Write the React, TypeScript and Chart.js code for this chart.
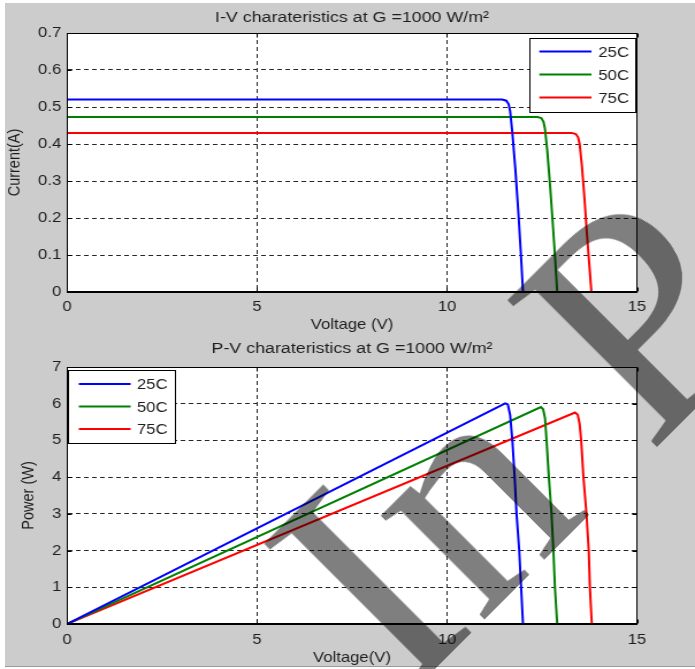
import React, { useEffect, useRef } from 'react';
import { Chart, registerables } from 'chart.js';

Chart.register(...registerables);

const FONT = '"Liberation Sans", Arial, sans-serif';
const TEXT_COLOR = '#1e1e1e';
// The reference figure is horizontally stretched; the charts are drawn narrower and widened by CSS.
const CANVAS_W = 604;
const STRETCH = 695 / CANVAS_W;

const seriesLabels = ['25C', '50C', '75C'];
const seriesColors = ['#0000ff', '#008000', '#ff0000'];

// I-V characteristics (voltage in V, current in A)
const ivVoltage25 = [0, 11.45, 11.56, 11.62, 11.66, 11.72, 11.8, 11.88, 11.94, 12.0];
const ivCurrent25 = [0.52, 0.52, 0.517, 0.508, 0.49, 0.43, 0.33, 0.21, 0.11, 0];
const ivVoltage50 = [0, 12.38, 12.48, 12.54, 12.58, 12.64, 12.71, 12.78, 12.84, 12.9];
const ivCurrent50 = [0.473, 0.473, 0.47, 0.46, 0.44, 0.38, 0.29, 0.19, 0.1, 0];
const ivVoltage75 = [0, 13.28, 13.39, 13.45, 13.49, 13.55, 13.62, 13.68, 13.74, 13.8];
const ivCurrent75 = [0.43, 0.43, 0.427, 0.418, 0.4, 0.34, 0.25, 0.16, 0.08, 0];

// P-V characteristics (voltage in V, power in W)
const pvVoltage25 = [0, 11.53, 11.6, 11.66, 11.72, 11.78, 11.83, 11.9, 11.95, 12.0];
const pvPower25 = [0, 6.01, 5.98, 5.7, 5.0, 4.0, 3.0, 2.0, 1.0, 0];
const pvVoltage50 = [0, 12.47, 12.53, 12.58, 12.62, 12.68, 12.75, 12.8, 12.84, 12.9];
const pvPower50 = [0, 5.91, 5.85, 5.6, 5.0, 4.0, 3.0, 2.0, 1.0, 0];
const pvVoltage75 = [0, 13.37, 13.44, 13.49, 13.53, 13.59, 13.67, 13.73, 13.76, 13.81];
const pvPower75 = [0, 5.76, 5.7, 5.45, 5.0, 4.0, 3.0, 2.0, 1.0, 0];

const ivTitle = 'I-V charateristics at G =1000 W/m\u00B2';
const pvTitle = 'P-V charateristics at G =1000 W/m\u00B2';
const ivXLabel = 'Voltage (V)';
const ivYLabel = 'Current(A)';
const pvXLabel = 'Voltage(V)';
const pvYLabel = 'Power (W)';
const watermarkText = 'In P';

const zip = (xs: number[], ys: number[]) => xs.map((x, i) => ({ x, y: ys[i] }));

const matlabPlugin = {
  id: 'matlabBox',
  beforeDraw(chart: any) {
    const { ctx, chartArea: a } = chart;
    ctx.save();
    ctx.fillStyle = '#ffffff';
    ctx.fillRect(a.left, a.top, a.right - a.left, a.bottom - a.top);
    ctx.restore();
  },
  afterDatasetsDraw(chart: any, _args: any, opts: any) {
    const { ctx, chartArea: a, scales } = chart;
    const L = Math.round(a.left) + 0.5;
    const R = Math.round(a.right) - 0.5;
    const T = Math.round(a.top) + 0.5;
    const B = Math.round(a.bottom) - 0.5;
    ctx.save();
    ctx.strokeStyle = '#000000';
    ctx.lineWidth = 1;
    ctx.setLineDash([]);
    ctx.strokeRect(L, T, R - L, B - T);
    const tl = 4;
    ctx.beginPath();
    scales.x.ticks.forEach((t: any) => {
      const px = Math.round(scales.x.getPixelForValue(t.value)) + 0.5;
      ctx.moveTo(px, B); ctx.lineTo(px, B - tl);
      ctx.moveTo(px, T); ctx.lineTo(px, T + tl);
    });
    scales.y.ticks.forEach((t: any) => {
      const py = Math.round(scales.y.getPixelForValue(t.value)) + 0.5;
      ctx.moveTo(L, py); ctx.lineTo(L + tl, py);
      ctx.moveTo(R, py); ctx.lineTo(R - tl, py);
    });
    ctx.stroke();

    if (opts && opts.legend) {
      const lg = opts.legend;
      const bx = lg.corner === 'tr' ? Math.round(a.right) - lg.dx - lg.w : Math.round(a.left) + lg.dx;
      const by = Math.round(a.top) + lg.dy;
      ctx.fillStyle = '#ffffff';
      ctx.fillRect(bx, by, lg.w, lg.h);
      ctx.strokeStyle = '#000000';
      ctx.lineWidth = 1;
      ctx.strokeRect(bx + 0.5, by + 0.5, lg.w - 1, lg.h - 1);
      chart.data.datasets.forEach((ds: any, i: number) => {
        const y = by + lg.rows[i];
        ctx.strokeStyle = ds.borderColor;
        ctx.lineWidth = 2;
        ctx.beginPath();
        ctx.moveTo(bx + lg.lineX0, y);
        ctx.lineTo(bx + lg.lineX1, y);
        ctx.stroke();
        ctx.fillStyle = TEXT_COLOR;
        ctx.font = `14.5px ${FONT}`;
        ctx.textBaseline = 'middle';
        ctx.textAlign = 'left';
        ctx.fillText(ds.label, bx + lg.textX, y + 1);
      });
    }
    ctx.restore();
  },
};

type PanelCfg = {
  xs: number[][];
  ys: number[][];
  title: string;
  xLabel: string;
  yLabel: string;
  yMax: number;
  yStep: number;
  height: number;
  titlePad: { top: number; bottom: number };
  xAxisHeight: number;
  xTickPad: number;
  xTitlePad: number;
  yTitlePad: number;
  legend: any;
};

function makeConfig(p: PanelCfg): any {
  const fixAxis = (size: number, horizontal: boolean) => (scale: any) => {
    if (horizontal) scale.height = size; else scale.width = size;
    scale.paddingLeft = 0; scale.paddingRight = 0; scale.paddingTop = 0; scale.paddingBottom = 0;
  };
  const tickFont = { family: FONT, size: 14.5 };
  const labelFont = { family: FONT, size: 14.5, lineHeight: 1.2 };
  return {
    type: 'line',
    data: {
      datasets: seriesLabels.map((label, i) => ({
        label,
        data: zip(p.xs[i], p.ys[i]),
        borderColor: seriesColors[i],
        backgroundColor: seriesColors[i],
        borderWidth: 2,
        pointRadius: 0,
        tension: 0,
        fill: false,
      })),
    },
    options: {
      animation: false,
      responsive: false,
      devicePixelRatio: 1,
      layout: { padding: { left: 0, right: 58 / STRETCH, top: 0, bottom: 0 } },
      plugins: {
        legend: { display: false },
        tooltip: { enabled: false },
        title: {
          display: true,
          fullSize: false,
          text: p.title,
          color: TEXT_COLOR,
          font: { family: FONT, size: 15.5, weight: 'normal', lineHeight: 1.2 },
          padding: p.titlePad,
        },
        matlabBox: { legend: p.legend },
      },
      scales: {
        x: {
          type: 'linear',
          min: 0,
          max: 15,
          afterFit: fixAxis(p.xAxisHeight, true),
          ticks: { stepSize: 5, color: TEXT_COLOR, font: tickFont, padding: p.xTickPad, maxRotation: 0 },
          grid: { color: '#262626', lineWidth: 1, drawTicks: false },
          border: { display: true, color: '#000000', width: 1, dash: [4, 3] },
          title: { display: true, text: p.xLabel, color: TEXT_COLOR, font: labelFont, padding: { top: 0, bottom: p.xTitlePad } },
        },
        y: {
          type: 'linear',
          min: 0,
          max: p.yMax,
          afterFit: fixAxis(67 / STRETCH, false),
          ticks: { stepSize: p.yStep, color: TEXT_COLOR, font: tickFont, padding: 5 },
          grid: { color: '#262626', lineWidth: 1, drawTicks: false },
          border: { display: true, color: '#000000', width: 1, dash: [4, 3] },
          title: { display: true, text: p.yLabel, color: TEXT_COLOR, font: labelFont, padding: { top: p.yTitlePad, bottom: 0 } },
        },
      },
    },
    plugins: [matlabPlugin],
  };
}

function Panel({ cfg, top }: { cfg: PanelCfg; top: number }) {
  const ref = useRef<HTMLCanvasElement | null>(null);
  useEffect(() => {
    if (!ref.current) return;
    const chart = new Chart(ref.current, makeConfig(cfg));
    return () => chart.destroy();
  }, []);
  return (
    <div
      style={{
        position: 'absolute',
        left: 0,
        top,
        width: CANVAS_W,
        height: cfg.height,
        transform: `scaleX(${STRETCH})`,
        transformOrigin: '0 0',
      }}
    >
      <canvas ref={ref} width={CANVAS_W} height={cfg.height} style={{ display: 'block', width: CANVAS_W, height: cfg.height }} />
    </div>
  );
}

const ivPanel: PanelCfg = {
  xs: [ivVoltage25, ivVoltage50, ivVoltage75],
  ys: [ivCurrent25, ivCurrent50, ivCurrent75],
  title: ivTitle,
  xLabel: ivXLabel,
  yLabel: ivYLabel,
  yMax: 0.7,
  yStep: 0.1,
  height: 332,
  titlePad: { top: 8.2, bottom: 6.2 },
  xAxisHeight: 40,
  xTickPad: 6,
  xTitlePad: -2,
  yTitlePad: 4,
  legend: { corner: 'tr', dx: 1, dy: 5, w: 93, h: 75, rows: [13.5, 36.5, 59.5], lineX0: 8.7, lineX1: 54, textX: 60 },
};

const pvPanel: PanelCfg = {
  xs: [pvVoltage25, pvVoltage50, pvVoltage75],
  ys: [pvPower25, pvPower50, pvPower75],
  title: pvTitle,
  xLabel: pvXLabel,
  yLabel: pvYLabel,
  yMax: 7,
  yStep: 1,
  height: 337,
  titlePad: { top: 7.7, bottom: 8.7 },
  xAxisHeight: 45,
  xTickPad: 7,
  xTitlePad: 2,
  yTitlePad: 16.5,
  legend: { corner: 'tl', dx: 1, dy: 3, w: 94, h: 74, rows: [14, 36.5, 59], lineX0: 9.5, lineX1: 54.5, textX: 60 },
};

export default function App() {
  return (
    <div
      style={{
        position: 'fixed',
        left: 0,
        top: 0,
        width: 695,
        height: 669,
        overflow: 'hidden',
        background: '#ffffff',
      }}
    >
      <div style={{ position: 'absolute', left: 5, top: 3, width: 690, height: 663, background: '#cccccc', borderBottom: '1px solid #9a9a9a' }} />
      <Panel cfg={ivPanel} top={0} />
      <Panel cfg={pvPanel} top={332} />
      <div style={{ position: 'absolute', left: 404, top: 700, transform: 'rotate(-45deg)', transformOrigin: '0 0', pointerEvents: 'none' }}>
        <span
          style={{
            position: 'absolute',
            left: 0,
            top: -268,
            fontFamily: '"Liberation Serif", "Times New Roman", serif',
            fontSize: 320,
            lineHeight: '320px',
            whiteSpace: 'pre',
            color: 'rgba(0,0,0,0.5)',
          }}
        >
          {watermarkText}
        </span>
      </div>
    </div>
  );
}
